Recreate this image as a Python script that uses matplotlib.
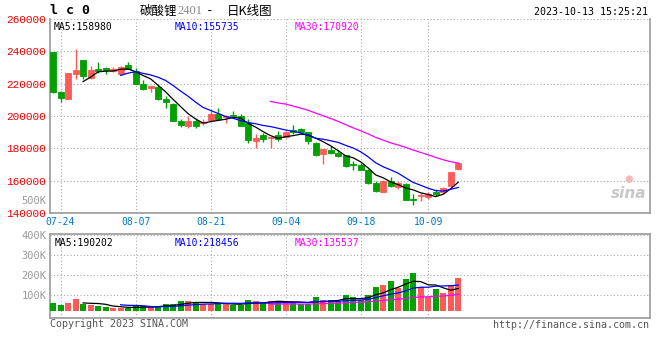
import numpy as np
import pandas as pd
import matplotlib
matplotlib.use("Agg")
import matplotlib.pyplot as plt

# daily k-line for 碳酸锂2401, 2023-07-21 .. 2023-10-13 (55 trading days)
opens = [239600, 215100, 210800, 226200, 234600, 223700, 229100, 229900, 228000, 226200,
         231800, 227700, 219800, 217400, 218000, 210600, 207700, 196600, 194100, 196600,
         195500, 197600, 201300, 199300, 200700, 200100, 195500, 184800, 188300, 186700,
         188300, 187100, 191400, 191800, 190200, 183600, 176800, 179100, 177400, 175600,
         170200, 170000, 166700, 158500, 153000, 159500, 156000, 158100, 148400, 150700,
         149900, 152700, 152700, 156400, 167100]
closes = [214900, 211400, 226600, 228500, 225000, 228500, 228000, 228700, 228900, 230500,
          229100, 220000, 216700, 218600, 210600, 208900, 196600, 194500, 196600, 194100,
          196200, 201300, 198200, 200100, 199500, 194100, 185300, 186700, 185900, 187100,
          185900, 190400, 190000, 190400, 184800, 175800, 179300, 177400, 175400, 168800,
          169800, 166700, 158500, 153800, 160000, 156900, 158500, 148200, 147800, 150900,
          151900, 151900, 155600, 165100, 170900]
highs = [239600, 215700, 226600, 241400, 234600, 231000, 233400, 230500, 230500, 231100,
         233400, 229500, 222300, 218600, 219600, 212600, 208300, 198400, 199700, 198600,
         198000, 202900, 204900, 200700, 203200, 201300, 198000, 189000, 189700, 187100,
         190800, 190800, 194500, 192800, 190200, 183800, 179300, 181600, 179100, 175800,
         171900, 171200, 167100, 160100, 160500, 162000, 160100, 158500, 151700, 152300,
         152700, 154700, 156000, 165500, 171300]
lows = [214300, 208900, 210800, 223100, 222900, 222700, 226400, 225800, 227500, 226200,
        229100, 219600, 215900, 214900, 209800, 205200, 196600, 193500, 192300, 192300,
        194700, 196600, 197600, 195500, 198600, 194100, 183200, 180500, 184200, 180100,
        184800, 186500, 188900, 189700, 182800, 175400, 170400, 176400, 174600, 168400,
        166700, 166700, 158100, 152700, 152800, 156300, 154800, 148200, 144700, 147200,
        148800, 150600, 152300, 156000, 166300]
volumes = [65400, 48300, 65400, 99500, 54000, 48300, 39800, 31300, 25600, 25600,
           19900, 39800, 39800, 31300, 39800, 56800, 56800, 82400, 82400, 73900,
           56800, 56800, 65400, 56800, 48300, 48300, 90900, 82400, 65400, 82400,
           82400, 73900, 73900, 56800, 56800, 116500, 90900, 90900, 82400, 133600,
           116500, 90900, 133600, 201800, 218800, 252900, 193300, 270000, 321100, 201800,
           116500, 184700, 150600, 218800, 278500]

date_ticks = [1, 11, 21, 31, 41, 50]
date_labels = ["07-24", "08-07", "08-21", "09-04", "09-18", "10-09"]
price_ticks = [140000, 160000, 180000, 200000, 220000, 240000, 260000]
vol_ticks = [131300, 301800, 472300, 645000]
vol_labels = ["100K", "200K", "300K", "400K"]

RED = "#ff5a5a"
GREEN = "#00a000"
GRID = "#aaaaaa"
MONO = "DejaVu Sans Mono"
CJK = ["Noto Sans CJK SC", "DejaVu Sans"]

df = pd.DataFrame({"open": opens, "close": closes, "high": highs, "low": lows, "vol": volumes})
x = np.arange(len(df))
up = df["close"] >= df["open"]
colors = np.where(up, RED, GREEN)

fig = plt.figure(figsize=(6.6, 3.6), dpi=100)
ax = fig.add_axes([50.5 / 660, 147 / 360, 599 / 660, 194 / 360])
vax = fig.add_axes([50.5 / 660, 42 / 360, 599 / 660, 83.7 / 360])

xl = (-0.333, -0.333 + 599 / 7.506)

# candles
ax.vlines(x, df["low"], df["high"], color=colors, linewidth=1, zorder=3)
body_lo = np.minimum(df["open"], df["close"])
body_h = (df["open"] - df["close"]).abs()
ax.bar(x, body_h, bottom=body_lo, width=0.8, color=colors, edgecolor=colors,
       linewidth=0.6, zorder=4)

for n, c in [(5, "black"), (10, "#0000ff"), (30, "#ff00ff")]:
    ax.plot(x, df["close"].rolling(n).mean(), color=c, linewidth=0.9, zorder=5)

ax.set_xlim(*xl)
ax.set_ylim(140000, 260000)
ax.set_yticks(price_ticks)
ax.set_yticklabels([str(v) for v in price_ticks], color="#ee0000",
                   fontfamily="Liberation Mono", fontsize=8)
ax.set_xticks(date_ticks)
ax.set_xticklabels(date_labels, color="#0077cc", fontfamily=MONO, fontsize=7)
ax.tick_params(length=0, pad=3)
ax.grid(True, color=GRID, linestyle=(0, (1, 2)), linewidth=0.8)
ax.set_axisbelow(True)
for s in ["left", "right", "bottom"]:
    ax.spines[s].set_color("#999999")
    ax.spines[s].set_linewidth(1.2)
ax.spines["top"].set_visible(False)

ax.text(0.005, 0.985, "MA5:158980", transform=ax.transAxes, fontfamily=MONO,
        fontsize=7, color="black", va="top")
ax.text(0.207, 0.985, "MA10:155735", transform=ax.transAxes, fontfamily=MONO,
        fontsize=7, color="#0000ff", va="top")
ax.text(0.408, 0.985, "MA30:170920", transform=ax.transAxes, fontfamily=MONO,
        fontsize=7, color="#ff00ff", va="top")
ax.text(0.995, 0.06, "sina", transform=ax.transAxes, fontsize=11, fontstyle="italic",
        fontweight="bold", color="#c8c8c8", ha="right", va="bottom", zorder=1)
ax.text(0.965, 0.175, "●", transform=ax.transAxes, fontsize=7, color="#f4b8b8",
        ha="center", va="center", zorder=1)

# volume
vax.bar(x, df["vol"], width=0.8, color=colors, zorder=3)
for n, c in [(5, "black"), (10, "#0000ff"), (30, "#ff00ff")]:
    vax.plot(x, df["vol"].rolling(n).mean(), color=c, linewidth=0.9, zorder=5)
vax.set_xlim(*xl)
vax.set_ylim(-62200, 651400)
vax.set_xticks(date_ticks)
vax.set_xticklabels([])
vax.set_yticks(vol_ticks)
vax.set_yticklabels(vol_labels, color="#999999", fontfamily=MONO, fontsize=7.5)
vax.tick_params(length=0, pad=3)
vax.grid(True, color=GRID, linestyle=(0, (1, 2)), linewidth=0.8)
vax.set_axisbelow(True)
for s in vax.spines.values():
    s.set_color("#999999")
    s.set_linewidth(1.2)
vax.text(0.007, 0.95, "MA5:190202", transform=vax.transAxes, fontfamily=MONO,
         fontsize=7, color="black", va="top")
vax.text(0.207, 0.95, "MA10:218456", transform=vax.transAxes, fontfamily=MONO,
         fontsize=7, color="#0000ff", va="top")
vax.text(0.408, 0.95, "MA30:135537", transform=vax.transAxes, fontfamily=MONO,
         fontsize=7, color="#ff00ff", va="top")

# header / footer
fig.text(46 / 660, 1 - 200.5 / 360, "500K", ha="right", va="center", color="#999999",
         fontfamily=MONO, fontsize=7.5)
fig.text(50 / 660, 1 - 11 / 360, "l c 0", ha="left", va="center", color="black",
         fontfamily=MONO, fontweight="bold", fontsize=9.5)
fig.text(140 / 660, 1 - 11 / 360, "碳酸锂", ha="left", va="center", color="black",
         family=CJK, fontsize=9)
fig.text(177 / 660, 1 - 11.5 / 360, "2401", ha="left", va="center", color="#888888",
         family=["Liberation Serif", "DejaVu Serif"], fontsize=9)
fig.text(210 / 660, 1 - 11 / 360, "-", ha="center", va="center", color="black",
         fontfamily=MONO, fontsize=9)
fig.text(227 / 660, 1 - 11 / 360, "日K线图", ha="left", va="center", color="black",
         family=CJK, fontsize=9)
fig.text(648 / 660, 1 - 12 / 360, "2023-10-13 15:25:21", ha="right", va="center",
         color="black", fontfamily=MONO, fontsize=7.2)
fig.text(50 / 660, 1 - 324 / 360, "Copyright 2023 SINA.COM", ha="left", va="center",
         color="#555555", fontfamily=MONO, fontsize=7.2)
fig.text(649 / 660, 1 - 324.5 / 360, "http://finance.sina.com.cn", ha="right",
         va="center", color="#555555", fontfamily=MONO, fontsize=7.2)

fig.savefig("out.png", dpi=100, facecolor="white")
